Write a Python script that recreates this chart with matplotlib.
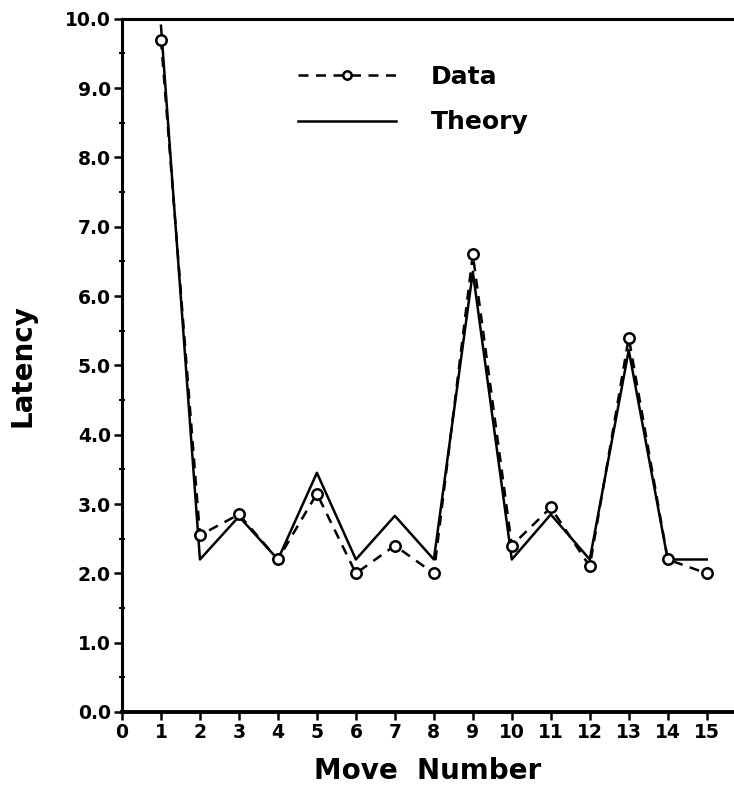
"""Latency per move: observed data vs. theory prediction."""
import matplotlib
matplotlib.use("Agg")
import matplotlib.pyplot as plt
from matplotlib.ticker import MultipleLocator, FormatStrFormatter

moves = [1, 2, 3, 4, 5, 6, 7, 8, 9, 10, 11, 12, 13, 14, 15]
data_latency = [9.7, 2.55, 2.85, 2.2, 3.15, 2.0, 2.4, 2.0, 6.6, 2.4, 2.95, 2.1, 5.4, 2.2, 2.0]
theory_latency = [9.9, 2.2, 2.82, 2.2, 3.45, 2.2, 2.83, 2.2, 6.35, 2.2, 2.85, 2.2, 5.22, 2.2, 2.2]
x_ticks = list(range(0, 16))

plt.rcParams["font.family"] = "DejaVu Sans"
plt.rcParams["font.weight"] = "bold"

fig = plt.figure(figsize=(7.34, 7.94), dpi=100)
ax = fig.add_axes([0.1662, 0.1033, 0.8338, 0.873])

ax.plot(moves, theory_latency, color="black", lw=1.8, label="Theory", zorder=2)
ax.plot(moves, data_latency, color="black", lw=1.8, dashes=(4, 3), marker="o",
        markersize=7.5, markerfacecolor="white", markeredgecolor="black",
        markeredgewidth=1.8, label="Data", zorder=3)

ax.set_xlim(0, 15.7)
ax.set_ylim(0, 10)
ax.set_xticks(x_ticks)
ax.yaxis.set_major_locator(MultipleLocator(1.0))
ax.yaxis.set_minor_locator(MultipleLocator(0.5))
ax.yaxis.set_major_formatter(FormatStrFormatter("%.1f"))
ax.tick_params(axis="both", which="major", direction="out", length=6, width=1.8,
               labelsize=13.5, pad=2)
ax.tick_params(axis="y", which="minor", direction="inout", length=5, width=1.5)
for lab in ax.get_xticklabels() + ax.get_yticklabels():
    lab.set_fontweight("bold")

ax.spines["right"].set_visible(False)
ax.spines["left"].set_linewidth(2.2)
ax.spines["top"].set_linewidth(2.2)
ax.spines["bottom"].set_linewidth(2.8)

ax.set_xlabel("Move  Number", fontsize=20, fontweight="bold", labelpad=11)
fig.text(0.03, 0.539, "Latency", rotation=90, fontsize=20, fontweight="bold",
         ha="center", va="center")

handles, labels = ax.get_legend_handles_labels()
leg = ax.legend(handles[::-1], labels[::-1], loc="upper left",
                bbox_to_anchor=(0.406, 0.918), bbox_transform=fig.transFigure,
                frameon=False, numpoints=1, handlelength=3.9, handletextpad=1.4,
                labelspacing=0.85, prop={"size": 18, "weight": "bold"},
                borderpad=0, borderaxespad=0)
for h in leg.legend_handles:
    h.set_markersize(6)

fig.savefig("out.png", dpi=100)
